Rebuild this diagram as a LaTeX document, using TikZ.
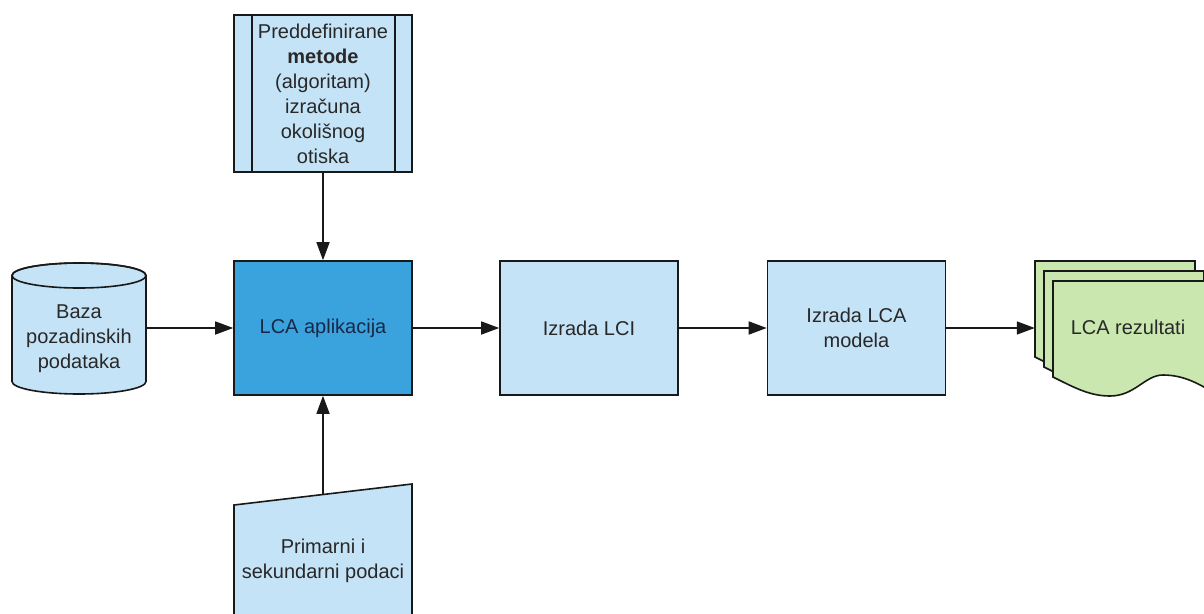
\documentclass[tikz,border=0pt]{standalone}
\usepackage{fontspec}
\setmainfont{Liberation Sans}
\usetikzlibrary{arrows.meta}
\definecolor{lblue}{RGB}{197,227,246}
\definecolor{dblue}{RGB}{58,162,221}
\definecolor{lgreen}{RGB}{201,231,174}
\definecolor{txt}{RGB}{40,40,40}
\definecolor{navy}{RGB}{25,40,70}
\definecolor{edge}{RGB}{25,25,25}
\tikzset{
  lbl/.style={font=\fontsize{20}{25}\selectfont, text=txt, align=center},
  procbox/.style={lbl, draw=edge, line width=1.6pt, fill=lblue, minimum width=178pt, minimum height=134pt, inner sep=0pt},
  flow/.style={line width=1.5pt, draw=edge, -{Triangle[length=18pt,width=13pt]}},
  shapeline/.style={draw=edge, line width=1.6pt}
}
\begin{document}
\begin{tikzpicture}[x=1pt,y=-1pt]
\useasboundingbox (0,0) rectangle (1204,613);
\clip (0,0) rectangle (1204,613);
\fill[white] (0,0) rectangle (1204,613);

% cylinder
\path[shapeline, fill=lblue] (12,275.5) -- (12,381.5) arc (180:0:67 and 12.5) -- (146,275.5) arc (0:-180:67 and 12.5) -- cycle;
\draw[shapeline] (79,275.5) ellipse [x radius=67, y radius=12.5];
\node[minimum width=134pt, minimum height=131pt, inner sep=0pt] (db) at (79,328) {};
\node[lbl] (dbtext) at (79,339) {Baza\\pozadinskih\\podataka};

% predefined process
\node[procbox, minimum height=157pt] (pre) at (323,93.5) {Preddefinirane\\\textbf{metode}\\(algoritam)\\izračuna\\okolišnog\\otiska};
\draw[shapeline] ([xshift=19pt]pre.north west) -- ([xshift=19pt]pre.south west);
\draw[shapeline] ([xshift=-18pt]pre.north east) -- ([xshift=-18pt]pre.south east);

% main boxes
\node[procbox, fill=dblue, text=navy] (app) at (323,328) {LCA aplikacija};
\node[procbox] (lci) at (589,328) {Izrada LCI};
\node[procbox] (model) at (856.5,328) {Izrada LCA\\modela};

% manual input
\path[shapeline, fill=lblue] (234,625) -- (234,505) -- (412,484) -- (412,625);
\coordinate (inptop) at (323,494.5);
\node[lbl] (inp) at (323,561) {Primarni i\\sekundarni podaci};

% multiple documents
\foreach \dx/\dy in {-18/-20,-9/-10,0/0}{
  \begin{scope}[shift={(\dx,\dy)}]
  \path[shapeline, fill=lgreen] (1053,281) -- (1053,377)
    .. controls (1075,388) and (1090,396) .. (1110,396)
    .. controls (1135,396) and (1145,375) .. (1163,375)
    .. controls (1185,375) and (1200,385) .. (1213,392)
    -- (1213,281) -- cycle;
  \end{scope}
}
\node[minimum width=178pt, minimum height=116pt, inner sep=0pt] (res) at (1124,319) {};
\node[lbl] (restext) at (1128,327) {LCA rezultati};

% connectors
\draw[flow] (pre.south) -- (app.north);
\draw[flow] (db.east) -- (app.west);
\draw[flow] (inptop) -- (app.south);
\draw[flow] (app.east) -- (lci.west);
\draw[flow] (lci.east) -- (model.west);
\draw[flow] (model.east) -- (model.east -| res.west);
\end{tikzpicture}
\end{document}
